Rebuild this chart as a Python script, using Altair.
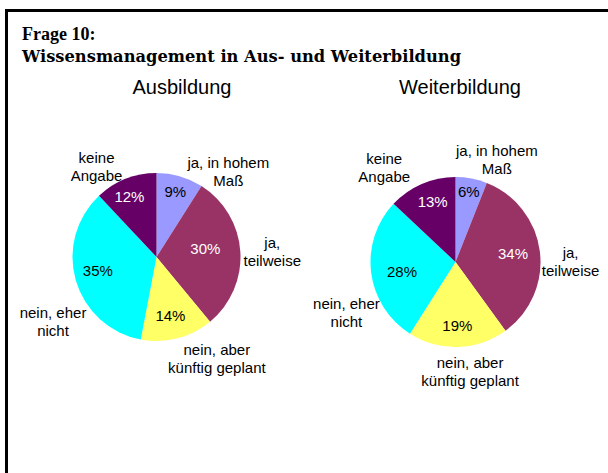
import altair as alt
import pandas as pd

# ---- data -------------------------------------------------------------
categories = ["ja, in hohem Maß", "ja, teilweise", "nein, aber künftig geplant",
              "nein, eher nicht", "keine Angabe"]
label_text = ["ja, in hohem\nMaß", "ja,\nteilweise", "nein, aber\nkünftig geplant",
              "nein, eher\nnicht", "keine\nAngabe"]
ausbildung = [9, 30, 14, 35, 12]
weiterbildung = [6, 34, 19, 28, 13]
pies = ["Ausbildung", "Weiterbildung"]
colors = ["#9999FF", "#993366", "#FFFF66", "#00FFFF", "#660066"]
title_lines = ["Frage 10:", "Wissensmanagement in Aus- und Weiterbildung"]

rows = []
for pie, vals in zip(pies, [ausbildung, weiterbildung]):
    for i, (c, l, v) in enumerate(zip(categories, label_text, vals)):
        rows.append({"pie": pie, "cat": c, "label": l, "order": i,
                     "value": v, "pct": f"{v}%"})
df = pd.DataFrame(rows)

SANS = "Liberation Sans"
SERIF = "Liberation Serif"

base = alt.Chart(df).transform_window(
    cum="sum(value)", groupby=["pie"], sort=[alt.SortField("order")], frame=[None, 0]
).transform_calculate(
    start="datum.cum - datum.value", mid="datum.cum - datum.value / 2"
)
theta_scale = alt.Scale(domain=[0, 100], range=[0, 6.283185307179586])
color_scale = alt.Scale(domain=categories, range=colors)

# per pie: centre, radius, label nudges (dx, dy) per category
pie_geom = {
    "Ausbildung": dict(cx=156.5, cy=257, r=84,
                       offs=[(40, 15), (2, -7), (32, -17), (6, 24), (-18, 7)],
                       poffs=[(2, -7), (-11, -4), (-1, 1), (-1, -3), (-5, -4)]),
    "Weiterbildung": dict(cx=455.5, cy=262, r=85,
                          offs=[(20, 1), (2, 5), (11, -13), (4, 28), (-26, 2)],
                          poffs=[(2, -11), (-2, 0), (0, 4), (6, 2), (1, -5)]),
}

layers = []
white_cats = [categories[1], categories[4]]
for p in pies:
    g = pie_geom[p]
    sub = base.transform_filter(alt.datum.pie == p)
    xy = dict(x=alt.value(g["cx"]), y=alt.value(g["cy"]))
    arc = sub.mark_arc(radius=g["r"]).encode(
        theta=alt.Theta("start:Q", scale=theta_scale),
        theta2="cum:Q",
        color=alt.Color("cat:N", scale=color_scale, legend=None),
        **xy,
    )
    layers.append(arc)
    for i, (dx, dy) in enumerate(g["poffs"]):
        pct = sub.transform_filter(alt.datum.order == i).mark_text(
            radius=60, dx=dx, dy=dy, fontSize=15, font=SANS, baseline="middle"
        ).encode(
            theta=alt.Theta("mid:Q", scale=theta_scale),
            text="pct:N",
            color=alt.condition(alt.FieldOneOfPredicate(field="cat", oneOf=white_cats),
                                alt.value("white"), alt.value("black")),
            **xy,
        )
        layers.append(pct)
    for i, (dx, dy) in enumerate(g["offs"]):
        lab = sub.transform_filter(alt.datum.order == i).mark_text(
            radius=114, dx=dx, dy=dy, lineBreak="\n", lineHeight=18,
            fontSize=15, font=SANS, color="black", align="center", baseline="middle"
        ).encode(theta=alt.Theta("mid:Q", scale=theta_scale), text="label:N", **xy)
        layers.append(lab)

# titles
t1 = alt.Chart(pd.DataFrame({"t": [title_lines[0]]})).mark_text(
    font=SERIF, fontSize=18, fontWeight="bold", align="left", baseline="alphabetic"
).encode(text="t:N", x=alt.value(22), y=alt.value(40))
t2 = alt.Chart(pd.DataFrame({"t": [title_lines[1]]})).mark_text(
    font="DejaVu Serif", fontSize=16.3, fontWeight="bold", align="left",
    baseline="alphabetic"
).encode(text="t:N", x=alt.value(22), y=alt.value(62))
sub_titles = alt.Chart(pd.DataFrame({"t": pies})).mark_text(
    font=SANS, fontSize=20, align="center", baseline="alphabetic"
)
s1 = sub_titles.transform_filter(alt.datum.t == pies[0]).encode(
    text="t:N", x=alt.value(182), y=alt.value(94))
s2 = sub_titles.transform_filter(alt.datum.t == pies[1]).encode(
    text="t:N", x=alt.value(460), y=alt.value(94))

# border (left and top edges of the surrounding box), drawn as thin filled rects
frame_src = alt.Chart(pd.DataFrame({"a": [0]}))
left_edge = frame_src.mark_rect(color="black").encode(
    x=alt.value(5), x2=alt.value(8), y=alt.value(9), y2=alt.value(473))
top_edge = frame_src.mark_rect(color="black").encode(
    x=alt.value(5), x2=alt.value(608), y=alt.value(9), y2=alt.value(12))

chart = alt.layer(left_edge, top_edge, t1, t2, s1, s2, *layers).properties(
    width=608, height=473, padding=0, autosize=alt.AutoSizeParams(type="none"),
    background="white",
).configure_view(strokeWidth=0, stroke="transparent")

chart.save("out.html", embed_options={"renderer": "svg", "actions": False})
